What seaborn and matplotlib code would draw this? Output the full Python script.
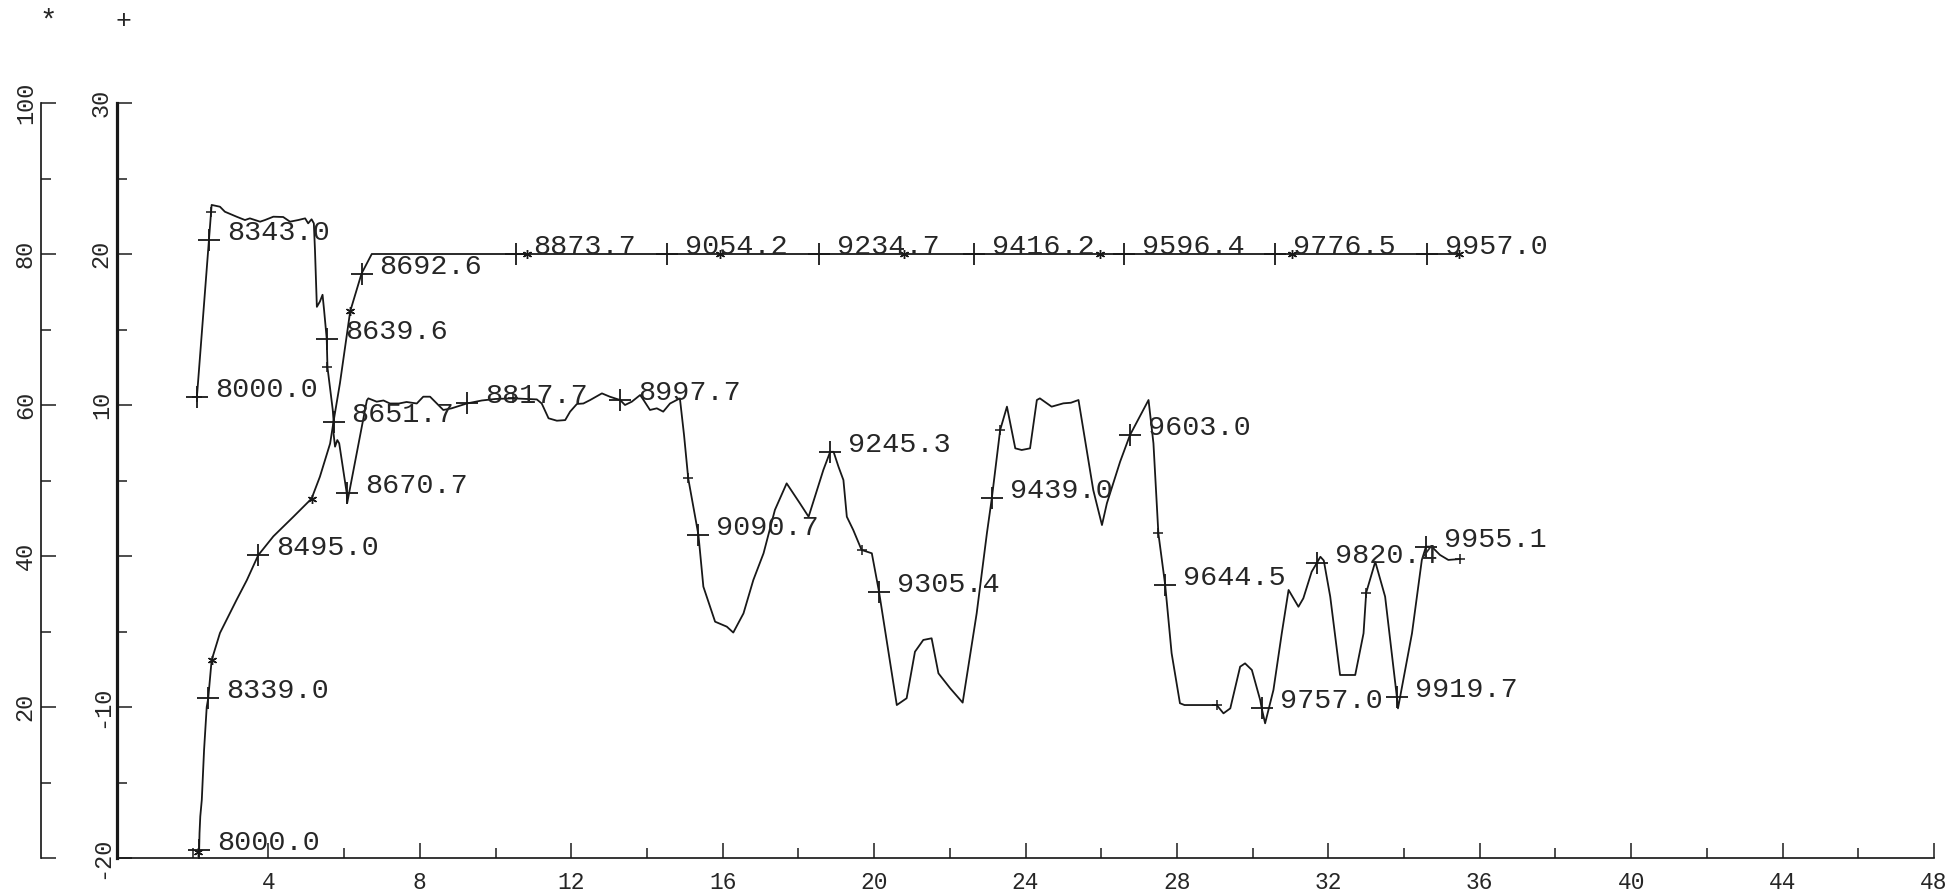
import matplotlib
matplotlib.use("Agg")
import matplotlib.pyplot as plt
import seaborn as sns
import pandas as pd

# ---- data -------------------------------------------------------------
# Series "*": plotted against the outer scale (0..100)
star_x = [2.17, 2.18, 2.20, 2.24, 2.30, 2.37, 2.41, 2.50, 2.72, 3.16, 3.43, 3.73,
          4.13, 4.66, 5.14, 5.36, 5.63, 5.72, 5.89, 6.16, 6.46, 6.73, 35.46]
star_y = [1.0, 3.3, 5.5, 7.7, 14.3, 20.0, 21.15, 26.2, 29.8, 34.2, 36.8, 40.1,
          42.6, 45.2, 47.6, 50.5, 54.9, 57.8, 62.9, 72.4, 77.4, 80.0, 80.0]
star_sym_x = [2.15, 2.50, 5.14, 6.16, 10.83, 15.93, 20.79, 25.97, 31.03, 35.46]
star_sym_y = [0.8, 26.2, 47.6, 72.4, 80.0, 80.0, 80.0, 80.0, 80.0, 80.0]
star_lab_x = [2.17, 2.41, 3.73, 5.72, 6.46, 10.53, 14.52, 18.55, 22.63, 26.60, 30.60, 34.60]
star_lab_y = [1.0, 21.15, 40.1, 57.8, 77.4, 80.0, 80.0, 80.0, 80.0, 80.0, 80.0, 80.0]
star_lab_t = ["8000.0", "8339.0", "8495.0", "8651.7", "8692.6", "8873.7", "9054.2",
              "9234.7", "9416.2", "9596.4", "9776.5", "9957.0"]

# Series "+": plotted against the inner scale (-20..30)
plus_x = [2.11, 2.43, 2.50, 2.72, 2.85, 3.16, 3.38, 3.51, 3.78, 3.91, 4.13, 4.39,
          4.57, 4.79, 4.97, 5.05, 5.14, 5.20, 5.23, 5.28, 5.36, 5.43, 5.47, 5.54,
          5.56, 5.70, 5.72, 5.72, 5.76, 5.82, 5.87, 6.07, 6.08, 6.60, 6.64, 6.86,
          7.04, 7.21, 7.45, 7.65, 7.92, 8.09, 8.27, 8.45, 8.62, 8.84, 9.24, 9.64,
          10.00, 10.47, 11.09, 11.22, 11.40, 11.62, 11.84, 11.97, 12.15, 12.32,
          12.50, 12.81, 13.02, 13.29, 13.42, 13.60, 13.82, 13.91, 14.08, 14.26,
          14.43, 14.61, 14.87, 14.98, 15.09, 15.36, 15.49, 15.80, 16.11, 16.28,
          16.55, 16.81, 17.08, 17.38, 17.69, 18.04, 18.27, 18.66, 18.84, 18.93,
          19.06, 19.19, 19.28, 19.45, 19.67, 19.94, 20.13, 20.33, 20.60, 20.86,
          21.08, 21.30, 21.52, 21.70, 22.01, 22.34, 22.71, 22.98, 23.11, 23.33,
          23.51, 23.73, 23.90, 24.12, 24.30, 24.38, 24.69, 25.00, 25.20, 25.40,
          25.53, 25.79, 26.02, 26.15, 26.50, 26.76, 27.25, 27.38, 27.51, 27.69,
          27.86, 28.08, 28.20, 29.05, 29.23, 29.41, 29.67, 29.80, 29.98, 30.20,
          30.24, 30.33, 30.55, 30.77, 30.95, 31.21, 31.34, 31.56, 31.69, 31.79,
          31.88, 32.05, 32.31, 32.71, 32.93, 33.00, 33.24, 33.50, 33.81, 33.84,
          34.21, 34.47, 34.58, 34.73, 34.95, 35.17, 35.48]
plus_y = [10.5, 20.9, 23.25, 23.13, 22.8, 22.47, 22.25, 22.36, 22.14, 22.25, 22.47, 22.45,
          22.14, 22.25, 22.36, 22.03, 22.3, 22.03, 20.26, 16.5, 16.85, 17.3, 16.3, 14.4,
          12.5, 9.67, 9.0, 8.13, 7.24, 7.68, 7.46, 4.15, 3.5, 10.3, 10.44, 10.22,
          10.3, 10.1, 10.1, 10.2, 10.1, 10.55, 10.55, 10.1, 9.67, 9.78, 10.1, 10.3,
          10.4, 10.44, 10.37, 10.1, 9.12, 8.96, 9.0, 9.56, 10.07, 10.1,
          10.33, 10.77, 10.55, 10.33, 10.0, 10.22, 10.66, 10.33, 9.67, 9.78,
          9.56, 10.1, 10.44, 8.0, 5.14, 1.39, -2.03, -4.35, -4.68, -5.07,
          -3.8, -1.59, 0.18, 3.05, 4.81, 3.49, 2.6, 5.7, 6.9, 6.9,
          5.91, 5.03, 2.6, 1.72, 0.4, 0.18, -2.36, -5.56, -9.87, -9.42,
          -6.34, -5.56, -5.45, -7.77, -8.76, -9.71, -3.8, 1.5, 3.82, 8.34,
          9.89, 7.13, 7.02, 7.13, 10.33, 10.44, 9.89, 10.11, 10.15, 10.33,
          8.34, 4.37, 2.05, 3.49, 6.25, 8.01, 10.33, 7.46, 1.5, -1.92,
          -6.44, -9.75, -9.87, -9.87, -10.42, -10.09, -7.33, -7.11, -7.55, -9.54,
          -10.09, -11.08, -8.87, -5.12, -2.25, -3.36, -2.80, -1.04, -0.49, -0.05,
          -0.3, -2.69, -7.88, -7.88, -5.12, -2.43, -0.38, -2.69, -9.32, -10.09,
          -5.12, -0.26, 0.62, 0.62, 0.07, -0.26, -0.2]
plus_sym_x = [2.11, 2.48, 5.56, 10.47, 15.09, 19.67, 23.33, 27.51, 29.05, 33.00, 35.48]
plus_sym_y = [10.5, 22.8, 12.5, 10.44, 5.14, 0.4, 8.34, 1.5, -9.9, -2.43, -0.2]
plus_lab_x = [2.11, 2.43, 5.54, 6.07, 9.24, 13.29, 15.36, 18.84, 20.13, 23.11, 26.76,
              27.69, 30.24, 31.69, 33.81, 34.58]
plus_lab_y = [10.5, 20.9, 14.4, 4.15, 10.1, 10.33, 1.39, 6.9, -2.36, 3.82, 8.01,
              -1.92, -10.09, -0.49, -9.32, 0.62]
plus_lab_t = ["8000.0", "8343.0", "8639.6", "8670.7", "8817.7", "8997.7", "9090.7",
              "9245.3", "9305.4", "9439.0", "9603.0", "9644.5", "9757.0", "9820.4",
              "9919.7", "9955.1"]

# axis ticks
x_major = list(range(0, 49, 4))
x_labels = [""] + [str(v) for v in x_major[1:]]
x_minor = list(range(2, 48, 4))
inner_major = [-20, -10, 0, 10, 20, 30]
inner_labels = ["-20", "-10", "", "10", "20", "30"]
inner_minor = [-15, -5, 5, 15, 25]
outer_major = [0, 20, 40, 60, 80, 100]
outer_labels = ["", "20", "40", "60", "80", "100"]
outer_minor = [10, 30, 50, 70, 90]

# ---- style --------------------------------------------------------------
sns.set_style("ticks")
plt.rcParams["font.family"] = ["Liberation Mono", "DejaVu Sans Mono"]
INK = "#181818"
TXT = "#262626"
PX = 0.72  # points per pixel at dpi 100
TICK_FS = 17

W, H = 1955, 892
fig = plt.figure(figsize=(W / 100, H / 100), dpi=100)
x0, x1, y0, y1 = 117, 1934, 103, 858
ax = fig.add_axes([x0 / W, (H - y1) / H, (x1 - x0) / W, (y1 - y0) / H])
ax.set_facecolor("none")
ax2 = ax.twinx()

ax.set_xlim(0, 48)
ax.set_ylim(-20, 30)
ax2.set_ylim(0, 100)

# lines
df_star = pd.DataFrame({"x": star_x, "y": star_y})
df_plus = pd.DataFrame({"x": plus_x, "y": plus_y})
sns.lineplot(data=df_star, x="x", y="y", ax=ax2, sort=False, estimator=None,
             color=INK, linewidth=1.8 * PX)
sns.lineplot(data=df_plus, x="x", y="y", ax=ax, sort=False, estimator=None,
             color=INK, linewidth=1.8 * PX)

# series symbols
ax2.plot(star_sym_x, star_sym_y, ls="none", marker=(6, 2, 0), ms=9 * PX,
         mew=1.0, color=INK)
ax.plot(plus_sym_x, plus_sym_y, ls="none", marker="+", ms=10 * PX,
        mew=1.1, color=INK)

# labelled points
ax2.plot(star_lab_x, star_lab_y, ls="none", marker="+", ms=23 * PX, mew=1.3, color=INK)
ax.plot(plus_lab_x, plus_lab_y, ls="none", marker="+", ms=23 * PX, mew=1.3, color=INK)
for xv, yv, t in zip(star_lab_x, star_lab_y, star_lab_t):
    ax2.annotate(t, (xv, yv), xytext=(18 * PX, 0), textcoords="offset points",
                 ha="left", va="baseline", fontsize=20.5, color=TXT)
for xv, yv, t in zip(plus_lab_x, plus_lab_y, plus_lab_t):
    ax.annotate(t, (xv, yv), xytext=(18 * PX, 0), textcoords="offset points",
                ha="left", va="baseline", fontsize=20.5, color=TXT)

# spines
for s in ["top", "right"]:
    ax.spines[s].set_visible(False)
for s in ["top", "right", "bottom"]:
    ax2.spines[s].set_visible(False)
ax.spines["left"].set_linewidth(3.2 * PX)
ax.spines["bottom"].set_linewidth(1.7 * PX)
ax2.spines["left"].set_visible(True)
ax2.spines["left"].set_linewidth(1.7 * PX)
ax2.spines["left"].set_position(("outward", 76 * PX))
for s in ax.spines.values():
    s.set_color(INK)
ax2.spines["left"].set_color(INK)

# x ticks
ax.set_xticks(x_major)
ax.set_xticklabels(x_labels)
ax.set_xticks(x_minor, minor=True)
ax.tick_params(axis="x", which="major", direction="in", length=15 * PX, width=1.5 * PX,
               pad=9.5, labelsize=16.5, colors=INK, labelcolor=TXT)
ax.tick_params(axis="x", which="minor", direction="in", length=10 * PX, width=1.5 * PX,
               colors=INK)

# inner y scale
ax.set_yticks(inner_major)
ax.set_yticklabels(inner_labels, rotation=90, va="center")
ax.set_yticks(inner_minor, minor=True)
ax.tick_params(axis="y", which="major", direction="in", length=15 * PX, width=1.5 * PX,
               pad=3, labelsize=TICK_FS, colors=INK, labelcolor=TXT)
ax.tick_params(axis="y", which="minor", direction="in", length=10 * PX, width=1.5 * PX,
               colors=INK)

# outer y scale
ax2.yaxis.set_ticks_position("left")
ax2.set_yticks(outer_major)
ax2.set_yticklabels(outer_labels, rotation=90, va="center")
ax2.set_yticks(outer_minor, minor=True)
ax2.tick_params(axis="y", which="major", direction="in", length=15 * PX, width=1.5 * PX,
                pad=3, labelsize=TICK_FS, colors=INK, labelcolor=TXT,
                left=True, right=False, labelleft=True, labelright=False)
ax2.tick_params(axis="y", which="minor", direction="in", length=10 * PX, width=1.5 * PX,
                colors=INK, left=True, right=False)
ax.set_xlabel("")
ax.set_ylabel("")
ax2.set_ylabel("")

# series key above each scale
fig.text(48 / W, 1 - 22 / H, "*", ha="center", va="center", fontsize=21, color=TXT)
fig.text(123 / W, 1 - 21 / H, "+", ha="center", va="center", fontsize=19, color=TXT)

fig.savefig("out.png", dpi=100, facecolor="white")
